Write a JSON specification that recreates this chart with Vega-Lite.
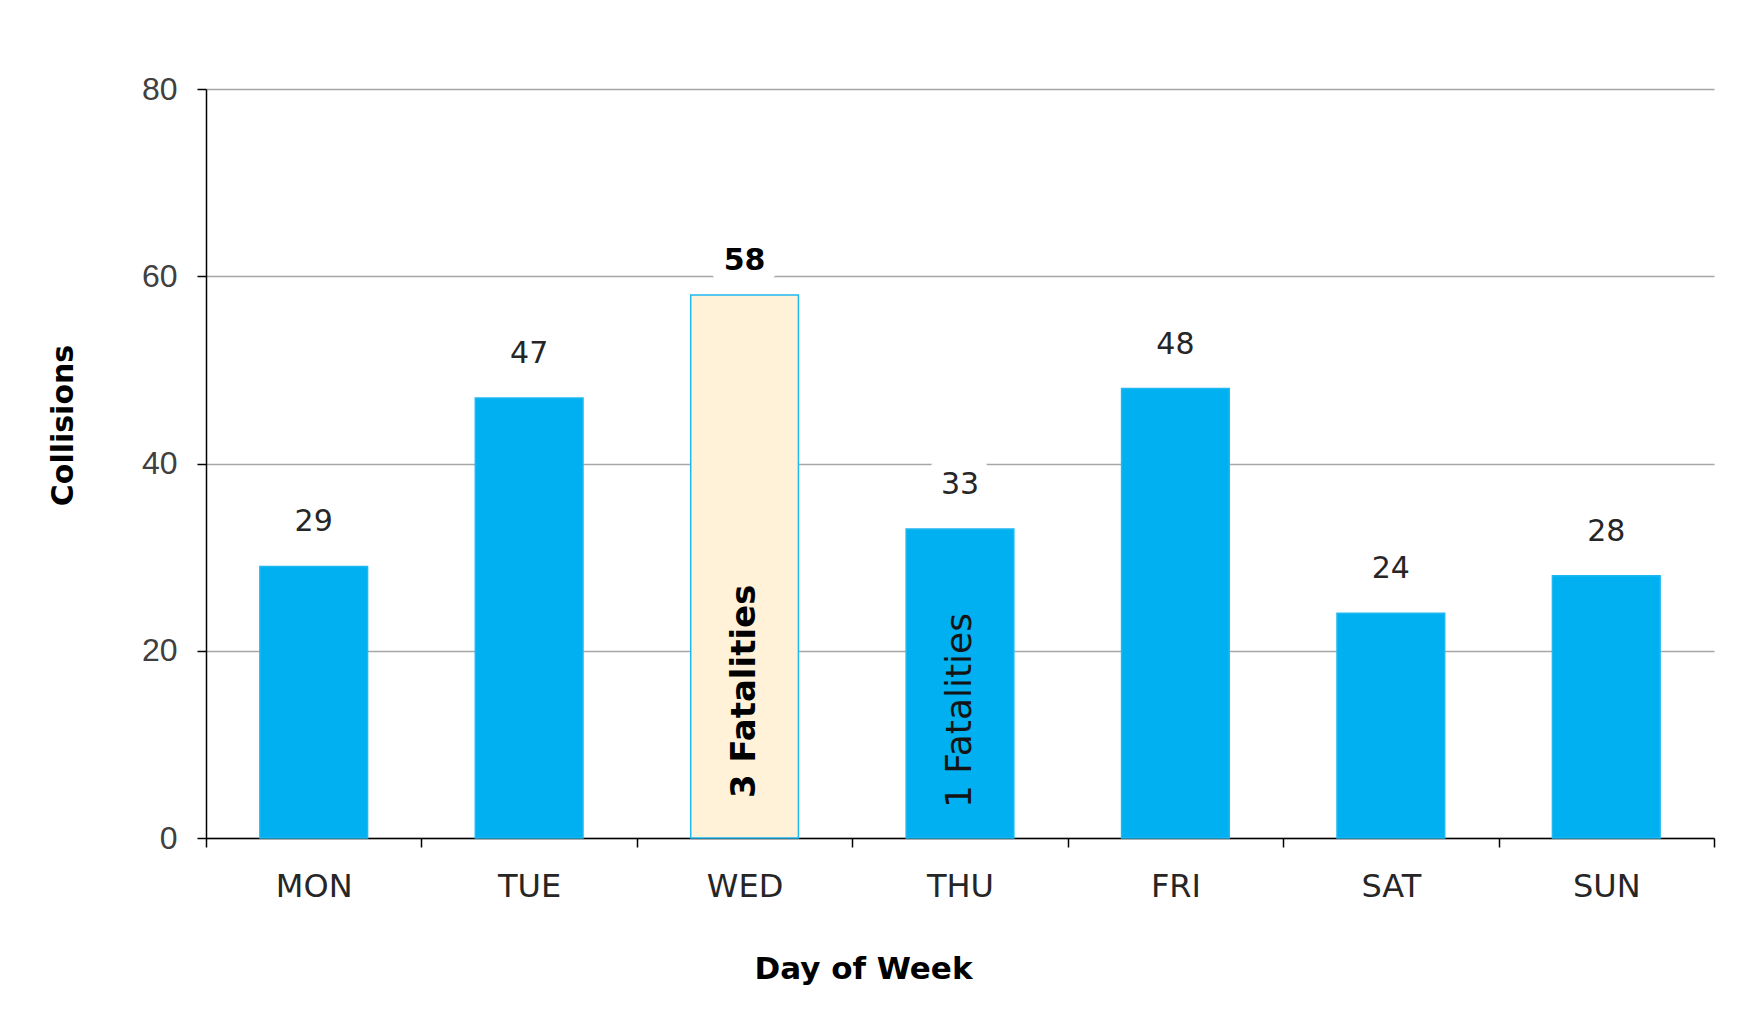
{
  "$schema": "https://vega.github.io/schema/vega-lite/v6.json",
  "width": 1508,
  "height": 749,
  "autosize": {"type": "none"},
  "padding": {"left": 206, "top": 89, "right": 48, "bottom": 185},
  "background": "white",
  "config": {"view": {"stroke": null}},
  "data": {
    "values": [
      {"day": "MON", "collisions": 29, "note": ""},
      {"day": "TUE", "collisions": 47, "note": ""},
      {"day": "WED", "collisions": 58, "note": "3 Fatalities"},
      {"day": "THU", "collisions": 33, "note": "1 Fatalities"},
      {"day": "FRI", "collisions": 48, "note": ""},
      {"day": "SAT", "collisions": 24, "note": ""},
      {"day": "SUN", "collisions": 28, "note": ""}
    ]
  },
  "encoding": {
    "x": {
      "field": "day",
      "type": "nominal",
      "sort": ["MON", "TUE", "WED", "THU", "FRI", "SAT", "SUN"],
      "scale": {"domain": ["MON", "TUE", "WED", "THU", "FRI", "SAT", "SUN"], "paddingInner": 0, "paddingOuter": 0},
      "axis": {
        "title": "Day of Week",
        "titleFont": "DejaVu Sans",
        "titleFontSize": 31,
        "titleFontWeight": "bold",
        "titleColor": "#000000",
        "titleX": 657,
        "titleY": 131,
        "titleAlign": "center",
        "titleBaseline": "middle",
        "labelAngle": 0,
        "labelFont": "DejaVu Sans",
        "labelFontSize": 32,
        "labelColor": "#262626",
        "labelPadding": 24,
        "labelBaseline": "top",
        "domainColor": "#000000",
        "domainWidth": 1.5,
        "tickColor": "#000000",
        "tickWidth": 1.5,
        "tickSize": 9,
        "tickBand": "extent",
        "grid": false
      }
    },
    "y": {
      "field": "collisions",
      "type": "quantitative",
      "scale": {"domain": [0, 80], "nice": false},
      "axis": {
        "values": [0, 20, 40, 60, 80],
        "title": "Collisions",
        "titleFont": "DejaVu Sans",
        "titleFontSize": 30,
        "titleFontWeight": "bold",
        "titleColor": "#000000",
        "titleAngle": 270,
        "titleX": -143,
        "titleY": 336,
        "titleAlign": "center",
        "titleBaseline": "middle",
        "labelFont": "Liberation Sans",
        "labelFontSize": 32,
        "labelColor": "#404040",
        "labelPadding": 20,
        "domainColor": "#000000",
        "domainWidth": 1.5,
        "tickColor": "#000000",
        "tickWidth": 1.5,
        "tickSize": 9,
        "grid": true,
        "gridColor": "#A6A6A6",
        "gridWidth": 1.5
      }
    }
  },
  "layer": [
    {
      "transform": [{"filter": "datum.day !== 'WED'"}],
      "mark": {
        "type": "text",
        "baseline": "middle",
        "dy": -44,
        "font": "DejaVu Sans",
        "fontSize": 30,
        "fill": "white",
        "stroke": "white",
        "strokeWidth": 30,
        "strokeJoin": "round"
      },
      "encoding": {"text": {"field": "collisions", "type": "quantitative"}}
    },
    {
      "transform": [{"filter": "datum.day === 'WED'"}],
      "mark": {
        "type": "text",
        "baseline": "middle",
        "dy": -34,
        "font": "DejaVu Sans",
        "fontSize": 30,
        "fontWeight": "bold",
        "fill": "white",
        "stroke": "white",
        "strokeWidth": 30,
        "strokeJoin": "round"
      },
      "encoding": {"text": {"field": "collisions", "type": "quantitative"}}
    },
    {
      "mark": {"type": "bar", "width": {"band": 0.5}, "strokeWidth": 1.5, "stroke": "#1FB8F0"},
      "encoding": {
        "fill": {
          "condition": {"test": "datum.day === 'WED'", "value": "#FFF2D8"},
          "value": "#00B0F0"
        }
      }
    },
    {
      "transform": [{"filter": "datum.day !== 'WED'"}],
      "mark": {
        "type": "text",
        "baseline": "middle",
        "dy": -44,
        "font": "DejaVu Sans",
        "fontSize": 30,
        "color": "#262626"
      },
      "encoding": {"text": {"field": "collisions", "type": "quantitative"}}
    },
    {
      "transform": [{"filter": "datum.day === 'WED'"}],
      "mark": {
        "type": "text",
        "baseline": "middle",
        "dy": -34,
        "font": "DejaVu Sans",
        "fontSize": 30,
        "fontWeight": "bold",
        "color": "#000000"
      },
      "encoding": {"text": {"field": "collisions", "type": "quantitative"}}
    },
    {
      "transform": [{"filter": "datum.day === 'WED'"}],
      "mark": {
        "type": "text",
        "angle": 270,
        "align": "left",
        "baseline": "middle",
        "dx": 40,
        "font": "DejaVu Sans",
        "fontSize": 34,
        "fontWeight": "bold",
        "color": "#000000"
      },
      "encoding": {
        "y": {"datum": 0},
        "text": {"field": "note", "type": "nominal"}
      }
    },
    {
      "transform": [{"filter": "datum.day === 'THU'"}],
      "mark": {
        "type": "text",
        "angle": 270,
        "align": "left",
        "baseline": "middle",
        "dx": 30,
        "font": "DejaVu Sans",
        "fontSize": 36,
        "color": "#141414"
      },
      "encoding": {
        "y": {"datum": 0},
        "text": {"field": "note", "type": "nominal"}
      }
    }
  ]
}
